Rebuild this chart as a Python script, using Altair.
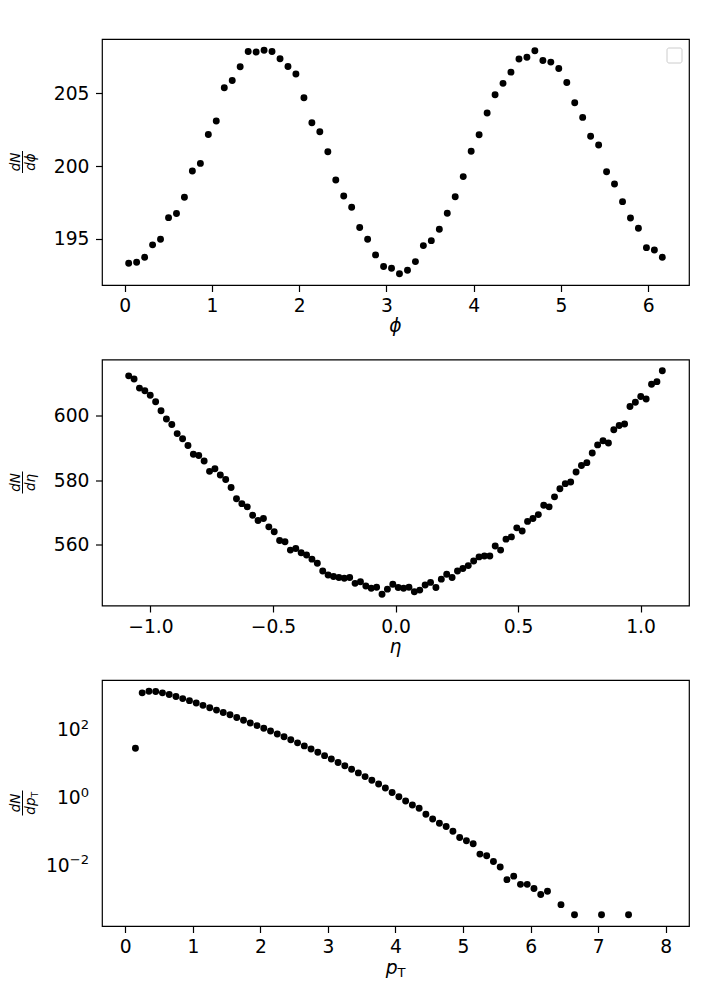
import math
import altair as alt
import pandas as pd

# ---------------- data ----------------
phi = [0.046, 0.137, 0.229, 0.320, 0.411, 0.503, 0.594, 0.685, 0.776, 0.868,
       0.959, 1.050, 1.142, 1.233, 1.324, 1.416, 1.507, 1.598, 1.689, 1.781,
       1.872, 1.963, 2.055, 2.146, 2.237, 2.329, 2.420, 2.511, 2.602, 2.694,
       2.785, 2.876, 2.968, 3.059, 3.150, 3.242, 3.333, 3.424, 3.515, 3.607,
       3.698, 3.789, 3.881, 3.972, 4.063, 4.155, 4.246, 4.337, 4.428, 4.520,
       4.611, 4.702, 4.794, 4.885, 4.976, 5.068, 5.159, 5.250, 5.341, 5.433,
       5.524, 5.615, 5.707, 5.798, 5.889, 5.981, 6.072, 6.163]
dn_dphi = [193.32, 193.39, 193.73, 194.58, 194.97, 196.45, 196.73, 197.85, 199.66, 200.18,
           202.17, 203.09, 205.38, 205.88, 206.82, 207.87, 207.83, 207.96, 207.87, 207.37,
           206.84, 206.32, 204.69, 202.97, 202.36, 200.98, 199.04, 197.94, 197.16, 195.77,
           194.97, 193.89, 193.09, 192.97, 192.59, 192.84, 193.43, 194.53, 194.87, 195.65,
           196.75, 197.89, 199.27, 201.01, 202.15, 203.64, 204.90, 205.68, 206.45, 207.35,
           207.48, 207.92, 207.25, 207.14, 206.70, 205.74, 204.35, 203.34, 202.04, 201.44,
           199.61, 198.76, 197.55, 196.43, 195.72, 194.39, 194.23, 193.73]

eta = [-1.089, -1.067, -1.045, -1.023, -1.001, -0.979, -0.957, -0.935, -0.913, -0.891,
       -0.869, -0.847, -0.825, -0.803, -0.781, -0.759, -0.737, -0.715, -0.693, -0.671,
       -0.649, -0.627, -0.605, -0.583, -0.561, -0.539, -0.517, -0.495, -0.473, -0.451,
       -0.429, -0.407, -0.385, -0.363, -0.341, -0.319, -0.297, -0.275, -0.253, -0.231,
       -0.209, -0.187, -0.165, -0.143, -0.121, -0.099, -0.077, -0.055, -0.033, -0.011,
       0.011, 0.033, 0.055, 0.077, 0.099, 0.121, 0.143, 0.165, 0.187, 0.209,
       0.231, 0.253, 0.275, 0.297, 0.319, 0.341, 0.363, 0.385, 0.407, 0.429,
       0.451, 0.473, 0.495, 0.517, 0.539, 0.561, 0.583, 0.605, 0.627, 0.649,
       0.671, 0.693, 0.715, 0.737, 0.759, 0.781, 0.803, 0.825, 0.847, 0.869,
       0.891, 0.913, 0.935, 0.957, 0.979, 1.001, 1.023, 1.045, 1.067, 1.089]
dn_deta = [612.4, 611.4, 608.6, 607.8, 606.4, 604.4, 601.6, 599.0, 597.3, 594.5,
           592.9, 590.8, 588.1, 587.7, 586.0, 582.8, 583.6, 581.7, 580.3, 577.8,
           574.3, 572.8, 571.8, 569.2, 567.6, 568.2, 565.6, 564.1, 561.4, 561.0,
           558.4, 558.9, 557.6, 556.9, 555.6, 554.3, 551.9, 550.7, 550.2, 549.9,
           549.7, 549.9, 548.1, 548.6, 547.3, 546.6, 546.9, 544.7, 546.3, 547.8,
           546.8, 546.6, 546.9, 545.5, 546.0, 547.6, 548.4, 546.8, 549.4, 550.9,
           549.9, 551.9, 552.7, 553.6, 555.0, 556.3, 556.6, 556.6, 559.7, 558.4,
           561.8, 562.5, 565.3, 564.3, 567.3, 568.2, 569.4, 572.3, 571.8, 574.9,
           577.4, 579.0, 579.5, 582.6, 584.6, 585.5, 588.5, 591.0, 592.3, 591.6,
           595.7, 597.0, 597.5, 602.9, 604.2, 606.0, 605.2, 609.8, 610.6, 614.0]

pt = [0.15, 0.25, 0.35, 0.45, 0.55, 0.65, 0.75, 0.85, 0.95, 1.05,
      1.15, 1.25, 1.35, 1.45, 1.55, 1.65, 1.75, 1.85, 1.95, 2.05,
      2.15, 2.25, 2.35, 2.45, 2.55, 2.65, 2.75, 2.85, 2.95, 3.05,
      3.15, 3.25, 3.35, 3.45, 3.55, 3.65, 3.75, 3.85, 3.95, 4.05,
      4.15, 4.25, 4.35, 4.45, 4.55, 4.65, 4.75, 4.85, 4.95, 5.05,
      5.15, 5.25, 5.35, 5.45, 5.55, 5.65, 5.75, 5.85, 5.95, 6.05,
      6.15, 6.25, 6.45, 6.65, 7.05, 7.45]
dn_dpt = [28.1, 1230, 1380, 1349, 1230, 1096, 955, 832, 724, 617,
          525, 447, 380, 324, 275, 229, 191, 158, 132, 110,
          91.2, 74.1, 61.7, 50.1, 40.7, 33.1, 26.9, 21.4, 17.0, 13.5,
          10.7, 8.51, 6.76, 5.25, 4.07, 3.16, 2.45, 1.86, 1.38, 1.035,
          0.771, 0.587, 0.469, 0.312, 0.227, 0.169, 0.135, 0.0984, 0.0640, 0.0511,
          0.0416, 0.0206, 0.0184, 0.0125, 0.00853, 0.00361, 0.00459, 0.00262, 0.00262, 0.00197,
          0.00131, 0.00164, 0.000656, 0.000328, 0.000328, 0.000328]
pt_range = [0.05, 7.95]  # full binning range (empty bins are not drawn on a log axis)

phi_ticks = [0, 1, 2, 3, 4, 5, 6]
phi_yticks = [195, 200, 205]
eta_ticks = [-1.0, -0.5, 0.0, 0.5, 1.0]
eta_yticks = [560, 580, 600]
pt_ticks = [0, 1, 2, 3, 4, 5, 6, 7, 8]
pt_yticks = [0.01, 1, 100]
pt_ytick_sup = ["\u22122", "0", "2"]

# ---------------- styling ----------------
FONT = "DejaVu Sans"
FS = 18.7          # tick labels and axis labels
FR = 13.5          # fraction text
FSUP = 13.1        # tick-label superscripts / x-label subscript
FSUB = 9.4         # subscript inside the fraction
W, H = 587, 246
TICK = 6.5
LW = 1.2


def pad5(lo, hi):
    s = hi - lo
    return [lo - 0.05 * s, hi + 0.05 * s]


def log_pad5(vals):
    lo, hi = math.log10(min(vals)), math.log10(max(vals))
    s = hi - lo
    return [10 ** (lo - 0.05 * s), 10 ** (hi + 0.05 * s)]


def xaxis(values, fmt):
    return alt.Axis(values=values, format=fmt, title=None, domain=False, grid=False,
                    tickColor="black", tickWidth=LW, tickSize=TICK,
                    labelFont=FONT, labelFontSize=FS, labelColor="black",
                    labelPadding=5.4, labelFlush=False, labelOverlap=False)


def yaxis(values, fmt=None, labels=True):
    kw = dict(values=values, title=None, domain=False, grid=False,
              tickColor="black", tickWidth=LW, tickSize=TICK,
              labelFont=FONT, labelFontSize=FS, labelColor="black",
              labelPadding=6.5, labelFlush=False, labelOverlap=False, labels=labels)
    if fmt:
        kw["format"] = fmt
    return alt.Axis(**kw)


def scatter(xs, ys, xscale, yscale, xax, yax):
    df = pd.DataFrame({"x": xs, "y": ys})
    return alt.Chart(df).mark_circle(size=48, color="black", opacity=1).encode(
        x=alt.X("x:Q", scale=xscale, axis=xax),
        y=alt.Y("y:Q", scale=yscale, axis=yax),
    )


def text(s, x, y, size=FS, italic=True, angle=0, align="center", baseline="alphabetic"):
    kw = dict(font=FONT, fontSize=size, color="black", align=align, baseline=baseline)
    if italic:
        kw["fontStyle"] = "italic"
    if angle:
        kw["angle"] = angle
    return alt.Chart(pd.DataFrame({"t": [s]})).mark_text(**kw).encode(
        text="t:N", x=alt.value(x), y=alt.value(y))


def vbar(x, y1, y2):
    return alt.Chart(pd.DataFrame({"a": [0]})).mark_rule(color="black", strokeWidth=1).encode(
        x=alt.value(x), y=alt.value(y1), y2=alt.value(y2))


def fraction(den, bar_x=-79.5, sub=None, barlen=22):
    cy = H / 2
    layers = [
        text("dN", bar_x - 2.5, cy, size=FR, angle=270),
        vbar(bar_x, cy - barlen / 2, cy + barlen / 2),
    ]
    den_base = bar_x + 2.5 + 0.76 * FR
    if sub is None:
        layers.append(text(den, den_base, cy, size=FR, angle=270))
    else:
        layers.append(text(den, den_base, cy - 5.5, size=FR, angle=270, align="right"))
        layers.append(text(sub, den_base + 2.8, cy - 5.5, size=FSUB, italic=False,
                           angle=270, align="left"))
    return layers


# ---------------- panel 1 : phi ----------------
p1 = alt.layer(
    scatter(phi, dn_dphi,
            alt.Scale(domain=pad5(min(phi), max(phi)), nice=False, zero=False),
            alt.Scale(domain=pad5(min(dn_dphi), max(dn_dphi)), nice=False, zero=False),
            xaxis(phi_ticks, "d"), yaxis(phi_yticks, "d")),
    alt.Chart(pd.DataFrame({"a": [0]})).mark_rect(
        fill="white", stroke="#cccccc", strokeWidth=1, cornerRadius=2).encode(
        x=alt.value(565), x2=alt.value(580), y=alt.value(9), y2=alt.value(24)),
    text("\u03d5", W / 2, H + 47),
    *fraction("d\u03d5"),
).properties(width=W, height=H)

# ---------------- panel 2 : eta ----------------
p2 = alt.layer(
    scatter(eta, dn_deta,
            alt.Scale(domain=pad5(min(eta), max(eta)), nice=False, zero=False),
            alt.Scale(domain=pad5(min(dn_deta), max(dn_deta)), nice=False, zero=False),
            xaxis(eta_ticks, ".1f"), yaxis(eta_yticks, "d")),
    text("\u03b7", W / 2, H + 47.5),
    *fraction("d\u03b7"),
).properties(width=W, height=H)

# ---------------- panel 3 : pT ----------------
pt_yscale = alt.Scale(type="log", domain=log_pad5(dn_dpt), nice=False)


def log_label(v, sup):
    supw = 0.636 * FSUP * len(sup.replace("\u2212", "")) + (0.838 * FSUP if "\u2212" in sup else 0)
    d = pd.DataFrame({"v": [v]})
    base = alt.Chart(d).mark_text(font=FONT, fontSize=FS, color="black", align="right",
                                  baseline="alphabetic", dy=6.8).encode(
        y=alt.Y("v:Q", scale=pt_yscale, axis=None), x=alt.value(-13 - supw),
        text=alt.value("10"))
    top = alt.Chart(d).mark_text(font=FONT, fontSize=FSUP, color="black", align="right",
                                 baseline="alphabetic", dy=-0.5).encode(
        y=alt.Y("v:Q", scale=pt_yscale, axis=None), x=alt.value(-13),
        text=alt.value(sup))
    return [base, top]


p3_labels = []
for v, s in zip(pt_yticks, pt_ytick_sup):
    p3_labels += log_label(v, s)

p3 = alt.layer(
    scatter(pt, dn_dpt,
            alt.Scale(domain=pad5(pt_range[0], pt_range[1]), nice=False, zero=False),
            pt_yscale,
            xaxis(pt_ticks, "d"), yaxis(pt_yticks, labels=False)),
    *p3_labels,
    text("p", W / 2 + 2, H + 47.5, align="right"),
    text("T", W / 2 + 2, H + 51, size=FSUP, italic=False, align="left"),
    *fraction("dp", sub="T", barlen=25),
).properties(width=W, height=H)

chart = alt.vconcat(p1, p2, p3, spacing=74.5, bounds="flush").properties(
    padding={"left": 0, "top": 30, "right": 5, "bottom": 5},
    background="white",
).configure(font=FONT).configure_view(stroke="black", strokeWidth=LW)

chart.save("out.html", embed_options={"renderer": "svg", "actions": False})
